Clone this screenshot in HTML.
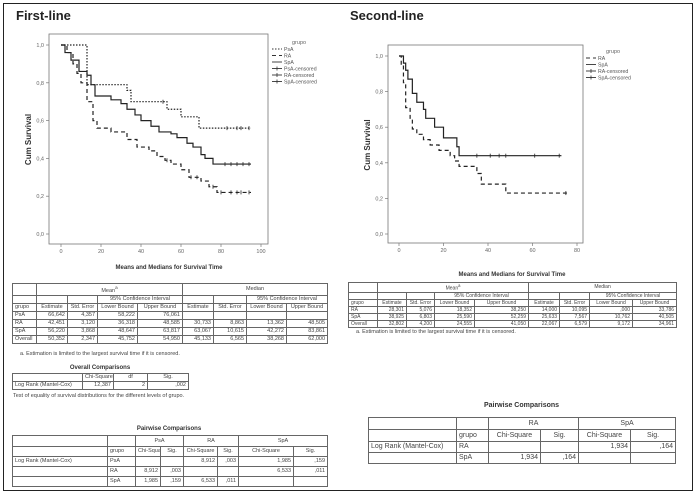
<!DOCTYPE html>
<html><head><meta charset="utf-8">
<style>
body{margin:0;background:#fff;}
#wrap{position:relative;width:698px;height:495px;overflow:hidden;background:#fff;font-family:"Liberation Sans",sans-serif;}
.frame{position:absolute;left:3px;top:3px;width:688px;height:486px;border:1.5px solid #222;}
.ttl{position:absolute;font-weight:bold;font-size:13px;color:#222;}
.cap{position:absolute;font-size:6px;font-weight:bold;color:#333;text-align:center;}
.note{position:absolute;font-size:5.5px;color:#444;}
table{position:absolute;border-collapse:collapse;border:1.5px solid #222;font-size:5.5px;color:#444;table-layout:fixed;}
td{border:0.7px solid #666;padding:0 2px;height:7px;line-height:7px;white-space:nowrap;overflow:hidden;text-align:right;}
td.c{text-align:center;}td.l{text-align:left;}
.big td{height:10px;line-height:10px;font-size:7px;}
.sm td{height:5.7px;line-height:6px;font-size:5px;}
</style></head><body>
<div id="wrap">
<div class="frame"></div>
<div class="ttl" style="left:16px;top:8px">First-line</div>
<div class="ttl" style="left:350px;top:8px">Second-line</div>
<svg id="svg" width="698" height="495" style="position:absolute;left:0;top:0"></svg>

<div class="cap" style="left:12px;width:314px;top:265px">Means and Medians for Survival Time</div>
<table style="left:12px;top:283px;width:315px">
<colgroup><col style="width:24px"><col style="width:31px"><col style="width:30px"><col style="width:40px"><col style="width:45px"><col style="width:31px"><col style="width:33px"><col style="width:40px"><col style="width:41px"></colgroup>
<tr><td></td><td class="c" colspan="4">Mean<sup>a</sup></td><td class="c" colspan="4">Median</td></tr>
<tr><td></td><td></td><td></td><td class="c" colspan="2">95% Confidence Interval</td><td></td><td></td><td class="c" colspan="2">95% Confidence Interval</td></tr>
<tr><td class="l">grupo</td><td class="c">Estimate</td><td class="c">Std. Error</td><td class="c">Lower Bound</td><td class="c">Upper Bound</td><td class="c">Estimate</td><td class="c">Std. Error</td><td class="c">Lower Bound</td><td class="c">Upper Bound</td></tr>
<tr><td class="l">PsA</td><td>66,642</td><td>4,357</td><td>58,222</td><td>76,061</td><td></td><td></td><td></td><td></td></tr>
<tr><td class="l">RA</td><td>42,451</td><td>3,120</td><td>36,318</td><td>48,585</td><td>30,733</td><td>8,863</td><td>13,362</td><td>48,505</td></tr>
<tr><td class="l">SpA</td><td>56,220</td><td>3,868</td><td>48,647</td><td>63,817</td><td>63,067</td><td>10,615</td><td>42,272</td><td>83,861</td></tr>
<tr><td class="l">Overall</td><td>50,352</td><td>2,347</td><td>45,752</td><td>54,950</td><td>45,133</td><td>6,565</td><td>38,268</td><td>62,000</td></tr>
</table>
<div class="note" style="left:20px;top:351px">a. Estimation is limited to the largest survival time if it is censored.</div>
<div class="cap" style="left:12px;width:176px;top:365px">Overall Comparisons</div>
<table style="left:12px;top:373px;width:176px">
<colgroup><col style="width:70px"><col style="width:31px"><col style="width:34px"><col style="width:41px"></colgroup>
<tr><td></td><td class="c">Chi-Square</td><td class="c">df</td><td class="c">Sig.</td></tr>
<tr><td class="l">Log Rank (Mantel-Cox)</td><td>12,387</td><td>2</td><td>,002</td></tr>
</table>
<div class="note" style="left:13px;top:392px;width:180px;line-height:9px">Test of equality of survival distributions for the different levels of grupo.</div>
<div class="cap" style="left:12px;width:314px;top:426px">Pairwise Comparisons</div>
<table style="left:12px;top:435px;width:315px">
<colgroup><col style="width:95px"><col style="width:28px"><col style="width:25px"><col style="width:23px"><col style="width:34px"><col style="width:21px"><col style="width:55px"><col style="width:34px"></colgroup>
<tr style="height:11px"><td></td><td style="border-left:none"></td><td class="c" colspan="2">PsA</td><td class="c" colspan="2">RA</td><td class="c" colspan="2">SpA</td></tr>
<tr style="height:10px"><td></td><td class="l">grupo</td><td class="c">Chi-Square</td><td class="c">Sig.</td><td class="c">Chi-Square</td><td class="c">Sig.</td><td class="c">Chi-Square</td><td class="c">Sig.</td></tr>
<tr style="height:10px"><td class="l">Log Rank (Mantel-Cox)</td><td class="l">PsA</td><td></td><td></td><td>8,912</td><td>,003</td><td>1,985</td><td>,159</td></tr>
<tr style="height:10px"><td></td><td class="l">RA</td><td>8,912</td><td>,003</td><td></td><td></td><td>6,533</td><td>,011</td></tr>
<tr style="height:10px"><td></td><td class="l">SpA</td><td>1,985</td><td>,159</td><td>6,533</td><td>,011</td><td></td><td></td></tr>
</table>

<div class="cap" style="left:348px;width:328px;top:272px">Means and Medians for Survival Time</div>
<table class="sm" style="left:348px;top:282px;width:328px">
<colgroup><col style="width:29px"><col style="width:29px"><col style="width:28px"><col style="width:40px"><col style="width:54px"><col style="width:31px"><col style="width:30px"><col style="width:43px"><col style="width:44px"></colgroup>
<tr><td></td><td class="c" colspan="4">Mean<sup>a</sup></td><td class="c" colspan="4">Median</td></tr>
<tr><td></td><td></td><td></td><td class="c" colspan="2">95% Confidence Interval</td><td></td><td></td><td class="c" colspan="2">95% Confidence Interval</td></tr>
<tr><td class="l">grupo</td><td class="c">Estimate</td><td class="c">Std. Error</td><td class="c">Lower Bound</td><td class="c">Upper Bound</td><td class="c">Estimate</td><td class="c">Std. Error</td><td class="c">Lower Bound</td><td class="c">Upper Bound</td></tr>
<tr><td class="l">RA</td><td>28,301</td><td>5,076</td><td>18,352</td><td>38,250</td><td>14,000</td><td>10,095</td><td>,000</td><td>33,786</td></tr>
<tr><td class="l">SpA</td><td>38,925</td><td>6,803</td><td>25,590</td><td>52,259</td><td>25,633</td><td>7,567</td><td>10,762</td><td>40,505</td></tr>
<tr><td class="l">Overall</td><td>32,802</td><td>4,200</td><td>24,555</td><td>41,050</td><td>22,067</td><td>6,579</td><td>9,172</td><td>34,961</td></tr>
</table>
<div class="note" style="left:356px;top:329px">a. Estimation is limited to the largest survival time if it is censored.</div>
<div class="cap" style="left:368px;width:307px;top:402px;font-size:7px">Pairwise Comparisons</div>
<table class="big" style="left:368px;top:417px;width:307px">
<colgroup><col style="width:88px"><col style="width:32px"><col style="width:52px"><col style="width:38px"><col style="width:52px"><col style="width:45px"></colgroup>
<tr style="height:12px"><td></td><td style="border-left:none"></td><td class="c" colspan="2">RA</td><td class="c" colspan="2">SpA</td></tr>
<tr style="height:12px"><td></td><td class="l">grupo</td><td class="c">Chi-Square</td><td class="c">Sig.</td><td class="c">Chi-Square</td><td class="c">Sig.</td></tr>
<tr><td class="l">Log Rank (Mantel-Cox)</td><td class="l">RA</td><td></td><td></td><td>1,934</td><td>,164</td></tr>
<tr><td></td><td class="l">SpA</td><td>1,934</td><td>,164</td><td></td><td></td></tr>
</table>
</div>
<script>
// First-line data (time, survival) step points
const t1PsA=[0,13,33,35,53,60,69,95];
const s1PsA=[1.0,0.79,0.76,0.70,0.66,0.62,0.56,0.56];
const c1PsA=[51,83,88,90,94];
const t1RA=[0,3,6,8,10,13,16,18,25,33,38,44,48,52,55,60,64,70,74,78,95];
const s1RA=[1.0,0.96,0.90,0.85,0.80,0.70,0.60,0.56,0.54,0.50,0.46,0.44,0.41,0.39,0.37,0.34,0.30,0.28,0.25,0.22,0.22];
const c1RA=[53,65,68,76,80,85,88,90,94];
const t1SpA=[0,2,5,9,13,15,17,25,30,33,37,40,45,49,55,58,63,66,70,72,76,95];
const s1SpA=[1.0,0.96,0.92,0.86,0.84,0.79,0.73,0.71,0.69,0.66,0.63,0.60,0.57,0.54,0.53,0.51,0.48,0.46,0.42,0.40,0.37,0.37];
const c1SpA=[82,85,88,91,94];
// Second-line data
const t2RA=[0,1,2,3,5,6,8,11,14,18,23,25,27,35,37,48,76];
const s2RA=[1.0,0.95,0.85,0.71,0.65,0.59,0.56,0.53,0.50,0.47,0.44,0.41,0.38,0.34,0.28,0.23,0.23];
const c2RA=[75];
const t2SpA=[0,2,3,4,6,8,11,12,16,20,26,27,73];
const s2SpA=[1.0,0.96,0.92,0.87,0.79,0.74,0.70,0.65,0.60,0.54,0.49,0.44,0.44];
const c2SpA=[35,41,45,48,61,72];
const yTicks=[0,0.2,0.4,0.6,0.8,1.0];
const yTickLabels=["0,0","0,2","0,4","0,6","0,8","1,0"];
const xTicks1=[0,20,40,60,80,100];
const xTicks2=[0,20,40,60,80];
const leg1=["PsA","RA","SpA","PsA-censored","RA-censored","SpA-censored"];
const leg2=["RA","SpA","RA-censored","SpA-censored"];

const NS="http://www.w3.org/2000/svg";
const svg=document.getElementById('svg');
function mk(tag,attrs){const e=document.createElementNS(NS,tag);for(const k in attrs)e.setAttribute(k,attrs[k]);svg.appendChild(e);return e;}

function panel(p){
  const X=v=>p.x0+v*p.xs, Y=v=>p.y0-v*p.ys;
  const box=mk('rect',{x:p.bx,y:p.by,width:p.bw,height:p.bh,fill:'none',stroke:'#777','stroke-width':0.8});
  
  
  yTicks.forEach((v,i)=>{
    const l=mk('line',{x1:p.bx-3,x2:p.bx,y1:Y(v),y2:Y(v),stroke:'#777','stroke-width':0.7});
    
    
    const t=mk('text',{x:p.bx-5,y:Y(v)+2,'font-size':5.5,'text-anchor':'end',fill:'#666'});
    t.textContent=yTickLabels[i];
    
    
  });
  p.xt.forEach(v=>{
    const l=mk('line',{x1:X(v),x2:X(v),y1:p.by+p.bh,y2:p.by+p.bh+3,stroke:'#777','stroke-width':0.7});
    
    
    const t=mk('text',{x:X(v),y:p.by+p.bh+9,'font-size':5.5,'text-anchor':'middle',fill:'#666'});
    t.textContent=v;
    
    
  });
  const yl=mk('text',{x:0,y:0,'font-size':8,'font-weight':'bold',fill:'#333','text-anchor':'middle',transform:`translate(${p.bx-18},${Y(0.5)}) rotate(-90)`});
  yl.textContent='Cum Survival';
  
  
  p.series.forEach(s=>{
    let d='M'+X(s.t[0])+','+Y(s.s[0]);
    for(let i=1;i<s.t.length;i++){d+=' H'+X(s.t[i])+' V'+Y(s.s[i]);}
    const path=mk('path',{d:d,fill:'none',stroke:'#222','stroke-width':1.2,'stroke-dasharray':s.dash});
    
    
    s.c.forEach(ct=>{
      let v=s.s[0];for(let i=0;i<s.t.length;i++){if(s.t[i]<=ct)v=s.s[i];}
      const m=mk('line',{x1:X(ct),x2:X(ct),y1:Y(v)-2,y2:Y(v)+2,stroke:'#222','stroke-width':0.8});
      
      
    });
  });
  const g=mk('text',{x:p.lx+20,y:p.ly,'font-size':5.5,fill:'#666'});
  g.textContent='grupo';
  
  
  p.leg.forEach((name,i)=>{
    const yy=p.ly+7+i*6.5;
    const dash=i<p.series.length?p.series[i].dash:'none';
    const ln=mk('line',{x1:p.lx,x2:p.lx+10,y1:yy-2,y2:yy-2,stroke:'#333','stroke-width':0.9,'stroke-dasharray':dash});
    
    
    if(i>=p.series.length){const tk=mk('line',{x1:p.lx+5,x2:p.lx+5,y1:yy-4,y2:yy,stroke:'#333','stroke-width':0.8});
      
      }
    const t=mk('text',{x:p.lx+12,y:yy,'font-size':5.2,fill:'#555'});
    t.textContent=name;
    
    
  });
}
panel({id:'first-line',bx:49,by:34,bw:219,bh:210,x0:61,xs:2.0,y0:234,ys:189,xt:xTicks1,lx:272,ly:44,leg:leg1,
  series:[{name:'psa',t:t1PsA,s:s1PsA,c:c1PsA,dash:'1.5,1.5'},{name:'ra',t:t1RA,s:s1RA,c:c1RA,dash:'4,3'},{name:'spa',t:t1SpA,s:s1SpA,c:c1SpA,dash:'none'}]});
panel({id:'second-line',bx:388,by:45,bw:195,bh:198,x0:399,xs:2.225,y0:234,ys:178,xt:xTicks2,lx:586,ly:53,leg:leg2,
  series:[{name:'ra',t:t2RA,s:s2RA,c:c2RA,dash:'4,3'},{name:'spa',t:t2SpA,s:s2SpA,c:c2SpA,dash:'none'}]});
</script>
</body></html>
